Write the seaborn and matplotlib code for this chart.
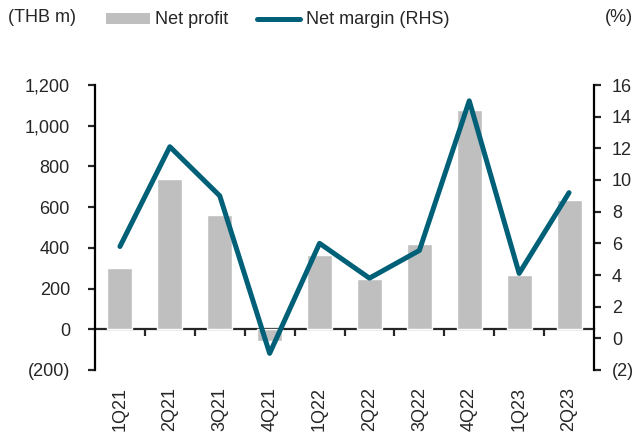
import matplotlib
matplotlib.use("Agg")
import matplotlib.pyplot as plt
import matplotlib.ticker as mticker
from matplotlib.patches import Patch
from matplotlib.lines import Line2D
import pandas as pd
import seaborn as sns

quarters = ["1Q21", "2Q21", "3Q21", "4Q21", "1Q22", "2Q22", "3Q22", "4Q22", "1Q23", "2Q23"]
net_profit = [300, 740, 563, -58, 365, 245, 419, 1076, 266, 636]
net_margin = [5.8, 12.1, 9.0, -0.95, 6.0, 3.8, 5.55, 15.0, 4.1, 9.2]

BAR = "#BFBFBF"
LINE = "#006078"
FS = 13

sns.set_style("white")
plt.rcParams["font.family"] = ["Liberation Sans", "DejaVu Sans"]

df = pd.DataFrame({"quarter": quarters, "profit": net_profit, "margin": net_margin})


def paren_fmt(fmt):
    def f(v, pos):
        s = fmt.format(abs(v))
        return "(" + s + ")" if v < 0 else s
    return mticker.FuncFormatter(f)


fig = plt.figure(figsize=(6.36, 4.34), dpi=100)
ax = fig.add_axes([95 / 636, 1 - 370 / 434, 499 / 636, 285 / 434])

sns.barplot(data=df, x="quarter", y="profit", color=BAR, width=0.5,
            saturation=1, ax=ax, order=quarters)
ax.set_xlim(-0.5, len(quarters) - 0.5)
ax.set_ylim(-200, 1200)
ax.set_yticks(range(-200, 1201, 200))
ax.yaxis.set_major_formatter(paren_fmt("{:,.0f}"))
ax.set_xlabel("")
ax.set_ylabel("")

ax2 = ax.twinx()
sns.lineplot(data=df, x="quarter", y="margin", color=LINE, linewidth=3.6,
             ax=ax2, sort=False)
ax2.set_ylim(-2, 16)
ax2.set_yticks(range(-2, 17, 2))
ax2.yaxis.set_major_formatter(paren_fmt("{:.0f}"))
ax2.set_ylabel("")
ax2.set_xlabel("")

for a in (ax, ax2):
    for side in ("top", "bottom"):
        a.spines[side].set_visible(False)
ax.spines["right"].set_visible(False)
ax2.spines["left"].set_visible(False)
ax.spines["left"].set_linewidth(1.6)
ax2.spines["right"].set_linewidth(1.6)
ax.spines["left"].set_color("black")
ax2.spines["right"].set_color("black")

ax.tick_params(axis="y", left=True, direction="out", length=5, width=1.6,
               labelsize=FS, pad=13)
ax2.tick_params(axis="y", right=True, direction="out", length=5, width=1.6,
                labelsize=FS, pad=8)
ax.tick_params(axis="x", bottom=False, length=0, labelsize=FS,
               labelrotation=90, pad=12)

# zero line with category separator ticks
zero_pos = (0 - (-200)) / 1400
sec = ax.secondary_xaxis(zero_pos)
sec.spines["bottom"].set_linewidth(1.6)
sec.set_xticks([i + 0.5 for i in range(len(quarters) - 1)])
sec.tick_params(axis="x", direction="out", length=5, width=1.6, labelbottom=False)

fig.text(8 / 636, 1 - 18 / 434, "(THB m)", fontsize=FS, va="center", ha="left")
fig.text(633 / 636, 1 - 18 / 434, "(%)", fontsize=FS, va="center", ha="right")

handles = [Patch(facecolor=BAR, edgecolor="none"),
           Line2D([], [], color=LINE, linewidth=3.6)]
fig.legend(handles, ["Net profit", "Net margin (RHS)"], ncol=2, frameon=False,
           loc="center left", bbox_to_anchor=(90 / 636, 1 - 20 / 434),
           fontsize=FS, handlelength=2.4, handletextpad=0.3, columnspacing=1.6,
           handleheight=0.55)

fig.savefig("out.png", dpi=100)
